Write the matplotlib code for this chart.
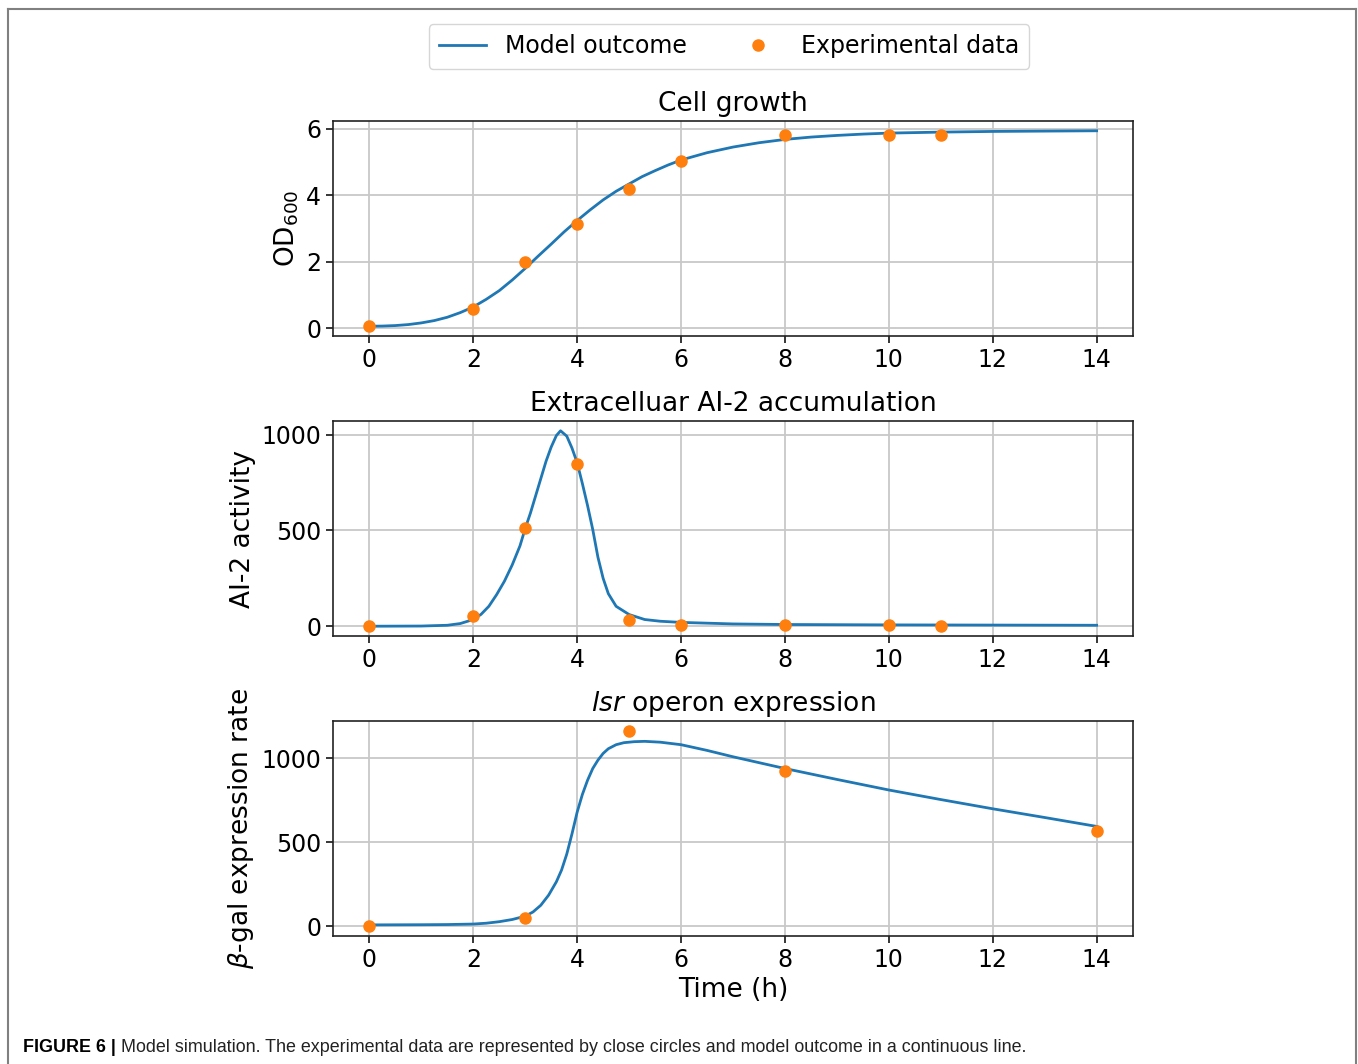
import matplotlib
matplotlib.use("Agg")
import matplotlib.pyplot as plt
from matplotlib.lines import Line2D

# ---------------- data ----------------
# Panel 1: cell growth
growth_t = [0, 0.25, 0.5, 0.75, 1.0, 1.25, 1.5, 1.75, 2.0, 2.25, 2.5, 2.75, 3.0, 3.25, 3.5, 3.75, 4.0,
            4.25, 4.5, 4.75, 5.0, 5.25, 5.5, 5.75, 6.0, 6.5, 7.0, 7.5, 8.0, 8.5, 9.0, 9.5, 10, 11, 12, 13, 14]
growth_model = [0.06, 0.065, 0.08, 0.11, 0.16, 0.23, 0.33, 0.47, 0.64, 0.87, 1.13, 1.45, 1.80, 2.17, 2.53, 2.90, 3.24,
                3.56, 3.86, 4.12, 4.34, 4.56, 4.74, 4.91, 5.06, 5.28, 5.45, 5.58, 5.68, 5.75, 5.80, 5.84, 5.87, 5.90, 5.92, 5.93, 5.94]
growth_exp_t = [0, 2, 3, 4, 5, 6, 8, 10, 11]
growth_exp = [0.06, 0.59, 2.0, 3.14, 4.19, 5.02, 5.82, 5.80, 5.80]

# Panel 2: extracellular AI-2
ai2_t = [0, 1, 1.5, 1.75, 2, 2.15, 2.3, 2.45, 2.6, 2.75, 2.9, 3.0, 3.1, 3.2, 3.3, 3.4, 3.5, 3.6, 3.68,
         3.8, 3.9, 4.0, 4.1, 4.2, 4.3, 4.4, 4.5, 4.6, 4.75, 5.0, 5.3, 5.6, 6.0, 7, 8, 10, 12, 14]
ai2_model = [0, 1, 5, 14, 35, 62, 104, 165, 235, 320, 420, 510, 590, 680, 770, 860, 935, 995, 1020,
             992, 930, 853, 745, 630, 505, 360, 250, 170, 104, 61, 35, 26, 20, 12, 9, 7, 6, 5]
ai2_exp_t = [0, 2, 3, 4, 5, 6, 8, 10, 11]
ai2_exp = [2, 52, 513, 849, 30, 8, 5, 5, 2]

# Panel 3: lsr operon expression
lsr_t = [0, 1, 1.5, 2, 2.25, 2.5, 2.75, 3.0, 3.15, 3.3, 3.45, 3.6, 3.7, 3.8, 3.9, 4.0, 4.1, 4.2, 4.3, 4.4,
         4.5, 4.6, 4.75, 4.9, 5.1, 5.3, 5.6, 6.0, 6.5, 7, 7.5, 8, 9, 10, 11, 12, 13, 14]
lsr_model = [8, 9, 10, 13, 18, 27, 40, 60, 85, 125, 185, 265, 335, 430, 550, 680, 785, 870, 940, 990,
             1030, 1058, 1082, 1094, 1100, 1102, 1097, 1082, 1048, 1010, 975, 940, 875, 812, 755, 700, 648, 595]
lsr_exp_t = [0, 3, 5, 8, 14]
lsr_exp = [0, 50, 1165, 926, 568]

x_ticks = [0, 2, 4, 6, 8, 10, 12, 14]
titles = ["Cell growth", "Extracelluar AI-2 accumulation", r"$\it{lsr}$ operon expression"]
ylabels = [r"OD$_{600}$", "AI-2 activity", r"$\beta$-gal expression rate"]
legend_labels = ["Model outcome", "Experimental data"]
caption_bold = "FIGURE 6 |"
caption_text = "Model simulation. The experimental data are represented by close circles and model outcome in a continuous line."

line_color = "#1f77b4"
dot_color = "#ff7f0e"

# ---------------- figure ----------------
fig = plt.figure(figsize=(13.58, 10.64), dpi=100)

rects = [
    [333 / 1358, 1 - 336 / 1064, 800 / 1358, 215 / 1064],
    [333 / 1358, 1 - 636 / 1064, 800 / 1358, 215 / 1064],
    [333 / 1358, 1 - 936 / 1064, 800 / 1358, 215 / 1064],
]

panels = [
    (growth_t, growth_model, growth_exp_t, growth_exp, [0, 2, 4, 6]),
    (ai2_t, ai2_model, ai2_exp_t, ai2_exp, [0, 500, 1000]),
    (lsr_t, lsr_model, lsr_exp_t, lsr_exp, [0, 500, 1000]),
]

for i, (rect, (mt, mv, et, ev, yt)) in enumerate(zip(rects, panels)):
    ax = fig.add_axes(rect)
    ax.plot(mt, mv, color=line_color, lw=2.0, zorder=3, solid_joinstyle="round")
    ax.plot(et, ev, "o", color=dot_color, ms=8, zorder=4)
    ax.set_xticks(x_ticks)
    ax.set_yticks(yt)
    ax.grid(True, color="#c8c8c8", lw=1.3)
    ax.set_axisbelow(True)
    ax.tick_params(labelsize=17, length=5, width=1.1)
    for s in ax.spines.values():
        s.set_linewidth(1.2)
        s.set_color("#222222")
    ax.set_title(titles[i], fontsize=19, pad=7)
    ax.set_ylabel(ylabels[i], fontsize=19)
    if i == 2:
        ax.set_xlabel("Time (h)", fontsize=19, labelpad=4)

handles = [
    Line2D([], [], color=line_color, lw=2.0),
    Line2D([], [], color=dot_color, marker="o", ls="none", ms=8),
]
fig.legend(handles, legend_labels, loc="upper center", bbox_to_anchor=(729 / 1358, 1 - 12 / 1064),
           ncol=2, fontsize=17, numpoints=1, frameon=True, columnspacing=2.0,
           handlelength=2.0, borderpad=0.45)

# outer frame (open at the bottom, as in the reference)
frame_color = "#808080"
fig.add_artist(Line2D([8 / 1358, 8 / 1358], [0, 1 - 9 / 1064], transform=fig.transFigure, color=frame_color, lw=1.5))
fig.add_artist(Line2D([1356 / 1358, 1356 / 1358], [0, 1 - 9 / 1064], transform=fig.transFigure, color=frame_color, lw=1.5))
fig.add_artist(Line2D([8 / 1358, 1356 / 1358], [1 - 9 / 1064, 1 - 9 / 1064], transform=fig.transFigure, color=frame_color, lw=1.5))

# caption
t1 = fig.text(23 / 1358, 1 - 1048 / 1064, caption_bold, fontsize=12.9, fontweight="bold",
              family=["Liberation Sans", "DejaVu Sans"], va="center", ha="left")
fig.canvas.draw()
bb = t1.get_window_extent()
fig.text((bb.x1 + 5) / 1358, 1 - 1048 / 1064, caption_text, fontsize=12.9,
         family=["Liberation Sans", "DejaVu Sans"], va="center", ha="left", color="#222222")

fig.savefig("out.png", dpi=100)
